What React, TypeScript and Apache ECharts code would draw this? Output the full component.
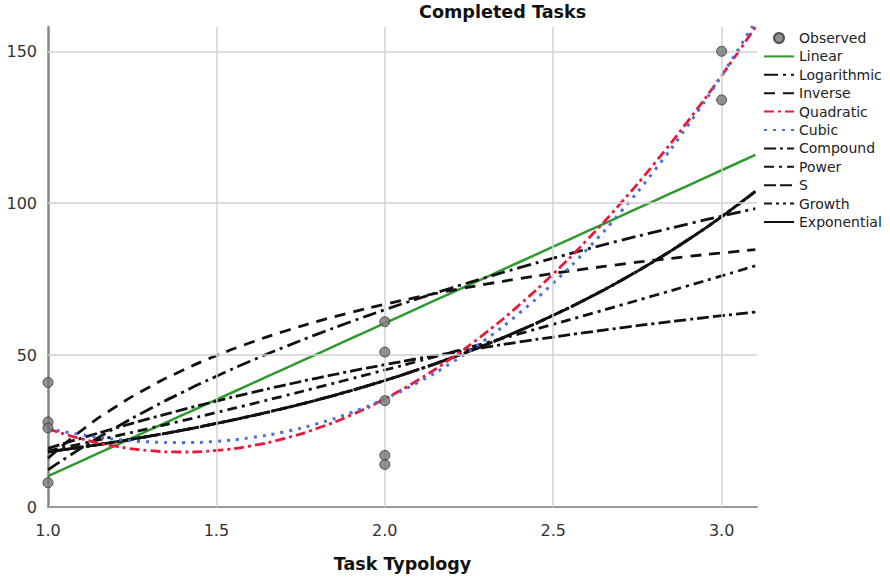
import React, { useEffect, useRef } from "react";
import * as echarts from "echarts";

// Observed data points
const OBS_X = [1, 1, 1, 1, 2, 2, 2, 2, 2, 3, 3];
const OBS_Y = [41, 28, 26, 8, 61, 51, 35, 17, 14, 150, 134];

// Sample positions along the x axis for the fitted curves
const X_SAMPLES = [1.0, 1.1, 1.2, 1.3, 1.4, 1.5, 1.6, 1.7, 1.8, 1.9, 2.0, 2.1, 2.2, 2.3, 2.4, 2.5, 2.6, 2.7, 2.8, 2.9, 3.0, 3.1];

// Fitted curve values read at the sample positions
const LINEAR = [10.17, 15.2, 20.24, 25.27, 30.31, 35.34, 40.37, 45.41, 50.44, 55.48, 60.51, 65.54, 70.58, 75.61, 80.65, 85.68, 90.71, 95.75, 100.78, 105.82, 110.85, 115.88];
const LOGARITHMIC = [12.22, 19.47, 26.08, 32.17, 37.8, 43.05, 47.96, 52.57, 56.91, 61.02, 64.92, 68.63, 72.17, 75.55, 78.78, 81.89, 84.87, 87.74, 90.5, 93.17, 95.75, 98.24];
const INVERSE = [16.02, 25.24, 32.92, 39.43, 45.0, 49.83, 54.05, 57.78, 61.1, 64.06, 66.73, 69.14, 71.34, 73.34, 75.18, 76.87, 78.43, 79.88, 81.22, 82.47, 83.63, 84.72];
const QUADRATIC = [25.75, 22.39, 20.0, 18.57, 18.1, 18.61, 20.07, 22.51, 25.91, 30.27, 35.6, 41.9, 49.16, 57.38, 66.57, 76.73, 87.85, 99.94, 113.0, 127.02, 142.0, 157.95];
const CUBIC = [25.75, 23.77, 22.31, 21.44, 21.19, 21.62, 22.78, 24.7, 27.45, 31.07, 35.6, 41.1, 47.61, 55.19, 63.87, 73.71, 84.76, 97.07, 110.68, 125.64, 142.0, 159.81];
const COMPOUND = [18.15, 19.72, 21.43, 23.29, 25.3, 27.5, 29.88, 32.47, 35.28, 38.33, 41.65, 45.26, 49.18, 53.44, 58.07, 63.1, 68.56, 74.5, 80.95, 87.96, 95.58, 103.86];
const POWER = [18.43, 20.84, 23.32, 25.86, 28.45, 31.1, 33.8, 36.55, 39.35, 42.2, 45.09, 48.02, 50.99, 54.0, 57.05, 60.14, 63.26, 66.42, 69.61, 72.83, 76.09, 79.38];
const S_CURVE = [19.31, 22.68, 25.95, 29.07, 32.04, 34.87, 37.54, 40.07, 42.46, 44.72, 46.85, 48.87, 50.78, 52.59, 54.31, 55.94, 57.49, 58.96, 60.36, 61.69, 62.96, 64.17];
const GROWTH = [18.15, 19.72, 21.43, 23.29, 25.3, 27.5, 29.88, 32.47, 35.28, 38.33, 41.65, 45.26, 49.18, 53.44, 58.07, 63.1, 68.56, 74.5, 80.95, 87.96, 95.58, 103.86];
const EXPONENTIAL = [18.15, 19.72, 21.43, 23.29, 25.3, 27.5, 29.88, 32.47, 35.28, 38.33, 41.65, 45.26, 49.18, 53.44, 58.07, 63.1, 68.56, 74.5, 80.95, 87.96, 95.58, 103.86];

// Axis ticks
const X_TICKS = [1.5, 2.0, 2.5, 3.0];
const Y_TICKS = [50, 100, 150];

const LEGEND_NAMES = ["Observed", "Linear", "Logarithmic", "Inverse", "Quadratic", "Cubic", "Compound", "Power", "S", "Growth", "Exponential"];

const FONT = "DejaVu Sans";

function pairs(ys: number[]) {
  return X_SAMPLES.map((x, i) => [x, ys[i]]);
}

function curve(name: string, ys: number[], color: string, type: any, width = 2.5, z = 2) {
  return {
    name,
    type: "line",
    data: pairs(ys),
    smooth: true,
    symbol: "none",
    showSymbol: false,
    z,
    lineStyle: { color, width, type },
    itemStyle: { color },
  };
}

export default function App() {
  const ref = useRef<HTMLDivElement>(null);
  useEffect(() => {
    if (!ref.current) return;
    const chart = echarts.init(ref.current, null, { renderer: "svg" });
    const isMult = (v: number, step: number) => Math.abs(v / step - Math.round(v / step)) < 1e-6;
    chart.setOption({
      animation: false,
      backgroundColor: "#fff",
      title: {
        text: "Completed Tasks",
        left: 419,
        top: 3,
        padding: 0,
        textStyle: { fontFamily: FONT, fontSize: 17.6, fontWeight: "bold", color: "#111" },
      },
      legend: {
        orient: "vertical",
        left: 763,
        top: 31,
        padding: 0,
        itemWidth: 30,
        itemHeight: 10,
        itemGap: 4.4,
        data: LEGEND_NAMES.map((n) =>
          n === "Observed" ? { name: n } : { name: n, itemStyle: { opacity: 0 } }
        ),
        textStyle: { fontFamily: FONT, fontSize: 14, color: "#222" },
        selectedMode: false,
      },
      grid: { left: 48, top: 27, width: 709, height: 480, containLabel: false },
      xAxis: {
        type: "value",
        min: 1,
        max: 3.105,
        interval: 0.5,
        axisLine: { show: true, lineStyle: { color: "#999", width: 2 } },
        axisTick: { show: false },
        splitLine: { show: false },
        axisLabel: {
          fontFamily: FONT,
          fontSize: 16,
          color: "#333",
          margin: 15,
          showMaxLabel: false,
          formatter: (v: number) => (isMult(v, 0.5) ? v.toFixed(1) : ""),
        },
        name: "Task Typology",
        nameLocation: "middle",
        nameGap: 48,
        nameTextStyle: { fontFamily: FONT, fontSize: 17.5, fontWeight: "bold", color: "#111" },
      },
      yAxis: {
        type: "value",
        min: 0,
        max: 158,
        interval: 50,
        axisLine: { show: true, lineStyle: { color: "#888", width: 2.5 } },
        axisTick: { show: false },
        splitLine: { show: false },
        axisLabel: {
          fontFamily: FONT,
          fontSize: 16,
          color: "#333",
          margin: 11,
          showMaxLabel: false,
          formatter: (v: number) => (isMult(v, 50) ? String(v) : ""),
        },
      },
      series: [
        {
          name: "__grid",
          type: "line",
          data: [[1, 0]],
          symbol: "none",
          z: 0,
          lineStyle: { opacity: 0 },
          silent: true,
          markLine: {
            silent: true,
            symbol: "none",
            label: { show: false },
            lineStyle: { color: "#d2d2d2", width: 1.5, type: "solid" },
            data: [...X_TICKS.map((x) => ({ xAxis: x })), ...Y_TICKS.map((y) => ({ yAxis: y }))],
          },
        },
        {
          name: "Observed",
          type: "scatter",
          data: OBS_X.map((x, i) => [x, OBS_Y[i]]),
          symbol: "circle",
          symbolSize: 10,
          z: 5,
          itemStyle: { color: "#777", borderColor: "#333", borderWidth: 1 },
        },
        curve("Linear", LINEAR, "#2e9a2e", "solid", 2.5),
        curve("Logarithmic", LOGARITHMIC, "#111", [14, 5, 3, 5], 2.8),
        curve("Inverse", INVERSE, "#111", [11, 8], 2.8),
        curve("Quadratic", QUADRATIC, "#e8193c", [10, 4, 3, 4], 2.8, 3),
        curve("Cubic", CUBIC, "#4a6fd6", [3, 6], 3, 3),
        curve("Compound", COMPOUND, "#111", [12, 4, 3, 4], 2.8),
        curve("Power", POWER, "#111", [10, 5, 3, 5], 2.8),
        curve("S", S_CURVE, "#111", [12, 4, 12, 4, 3, 4], 2.8),
        curve("Growth", GROWTH, "#111", [8, 4, 3, 4, 3, 4], 2.8),
        curve("Exponential", EXPONENTIAL, "#111", [30, 3, 3, 3], 2.8),
      ],
    });
    return () => chart.dispose();
  }, []);
  return (
    <div
      ref={ref}
      style={{ position: "absolute", left: 0, top: 0, width: 890, height: 578 }}
    />
  );
}
